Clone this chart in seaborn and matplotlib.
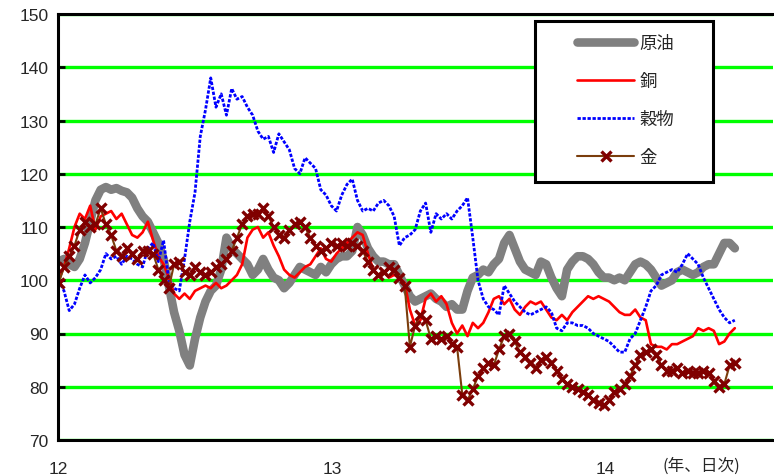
import numpy as np
import pandas as pd
import matplotlib
matplotlib.use("Agg")
import matplotlib.pyplot as plt
from matplotlib.patches import Rectangle
import seaborn as sns

# Weekly index levels (start of 2012 = 100)
start_date = "2012-01-02"

crude_oil = [
    103.5, 104, 103, 102.5, 104, 107, 111, 115, 117, 117.5,
    117, 117.3, 116.8, 116.5, 115.5, 113.5, 112, 111, 109, 107,
    104, 99, 94, 90.5, 86, 84, 89, 93, 96, 98,
    99, 102, 108, 106, 105, 104, 103, 101, 102, 104,
    102, 100.5, 100, 98.5, 99.5, 101, 102.5, 102, 101.5, 101,
    102.5, 101.5, 103, 104, 104.5, 104.5, 105.5, 110, 108.5, 106,
    104.5, 103.5, 103.5, 103, 103, 101, 99, 97, 96, 96.5,
    97, 97.5, 96.5, 96, 95, 95.5, 94.5, 94.5, 98, 100.5,
    101, 102, 101.5, 103, 104, 107, 108.5, 106, 103.5, 102,
    101.5, 101, 103.5, 103, 100.5, 98.5, 97, 102, 103.5, 104.5,
    104.5, 104, 103, 101.5, 100.5, 100.5, 100, 100.5, 100, 101.5,
    103, 103.5, 103, 102, 100.5, 99, 99.5, 100, 101.5, 102,
    101.5, 101, 101.5, 102.5, 103, 103, 105, 107, 107, 106,
]

copper = [
    100, 102.5, 106, 110, 112.5, 111.5, 114, 109.5, 112, 112.5,
    113, 111.5, 112.5, 110.5, 108.5, 108, 109, 111, 107.5, 104.5,
    103, 100.5, 97.5, 96.5, 97.5, 96.5, 98, 98.5, 99, 98.5,
    99.5, 98.5, 99, 100, 101, 103, 108, 109.5, 110, 108,
    109, 106.5, 104.5, 102, 101, 100.5, 101.5, 102.5, 103, 104.5,
    106, 104, 103.5, 105, 106, 107, 108, 109, 108.5, 105,
    102, 101, 101.5, 100.5, 101, 100.5, 99.5, 94.5, 91.5, 92.5,
    96.5, 97.5, 96, 97, 95.5, 92, 90, 91.5, 89.5, 92,
    91, 92, 94, 96.5, 97, 95.5, 96.5, 94.5, 93.5, 95,
    96, 95.5, 96, 94.5, 93, 92.5, 93.5, 92.5, 94, 95,
    96, 97, 96.5, 97, 96.5, 96, 95, 94, 93.5, 93.5,
    94.5, 93, 92.5, 88, 87.5, 87.5, 87, 88, 88, 88.5,
    89, 89.5, 91, 90.5, 91, 90.5, 88, 88.5, 90, 91,
]

grains = [
    100, 98, 94.3, 95.5, 98.5, 101, 99.5, 100.5, 102, 105,
    104, 104.5, 103, 104.5, 104, 103, 102.5, 106, 107, 103.5,
    107.5, 100, 98.5, 98, 104, 111, 116.5, 127, 132, 138,
    132.5, 135, 131, 136, 134, 134.5, 132.5, 131, 128, 126.5,
    127, 124, 127.5, 126, 124.5, 121, 120, 123, 122, 121,
    117, 116, 114, 113, 116, 118, 119, 115, 113, 113.5,
    113, 114.5, 115, 114, 112, 106.5, 108, 108.5, 109.5, 113,
    114.5, 109, 112.5, 111.5, 112.5, 111.5, 113, 114, 115.5, 108,
    100, 96.5, 95, 94.5, 93.5, 99, 97.5, 96, 95, 94,
    93.5, 94, 94.5, 95, 94, 91, 90.5, 92, 92, 91.5,
    91.5, 91, 90, 89.5, 89, 88.5, 87.5, 86.5, 86.5, 89,
    90, 92.5, 95, 98, 99, 101, 101.5, 102, 101.5, 103,
    105, 104, 103, 100.5, 98.5, 96.5, 94.5, 93, 92, 92.5,
]

gold = [
    99.5, 102.5, 104.5, 106.5, 109.5, 111, 110, 110.5, 113.5, 110.5,
    108.5, 105.5, 104.5, 106, 105, 104, 105.5, 105.5, 105, 102,
    100, 98.5, 103, 103.5, 101.5, 101, 102.5, 101.5, 101, 101.5,
    102.5, 103, 104, 105.5, 108, 110.5, 112, 112.5, 112.5, 113.5,
    112, 110, 108.5, 108, 109.5, 110.5, 111, 110, 108, 106.5,
    105.5, 106, 107, 106.5, 107, 106.5, 107, 106.5, 105.5, 103.5,
    102, 101, 101.5, 102.5, 102, 100.5, 99, 87.5, 91.5, 93.5,
    92.5, 89, 89.5, 89, 89.5, 88, 87.5, 78.5, 77.5, 79.5,
    82, 83.5, 84.5, 84, 87, 89.5, 90, 88.5, 86.5, 85.5,
    84.5, 83.5, 85, 85.5, 84.5, 83, 81.5, 80.5, 80, 79.5,
    79, 78.5, 77.5, 77, 76.5, 77.5, 79, 79.5, 80.5, 82,
    84, 86, 86.5, 87, 86, 84, 83, 83, 83.5, 82.5,
    83, 82.5, 82.5, 83, 82.5, 81, 80, 80.5, 84, 84.5,
]

labels = ["原油", "銅", "穀物", "金"]
year_ticks = ["2012-01-01", "2013-01-01", "2014-01-01"]
year_labels = ["12", "13", "14"]
y_ticks = [70, 80, 90, 100, 110, 120, 130, 140, 150]

dates = pd.date_range(start_date, periods=len(crude_oil), freq="7D")
df = pd.DataFrame({"date": dates, labels[0]: crude_oil, labels[1]: copper,
                   labels[2]: grains, labels[3]: gold})

sns.set_style("white")
plt.rcParams["font.family"] = ["Liberation Sans", "Noto Sans CJK JP", "DejaVu Sans"]

fig = plt.figure(figsize=(7.74, 4.77), dpi=100)
ax = fig.add_axes([58 / 774, 1 - 441 / 477, 715 / 774, 426 / 477])

sns.lineplot(data=df, x="date", y=labels[0], ax=ax, color="#808080", lw=6.2,
             solid_capstyle="round", solid_joinstyle="round", label=labels[0])
sns.lineplot(data=df, x="date", y=labels[1], ax=ax, color="#ff0000", lw=1.9,
             label=labels[1])
sns.lineplot(data=df, x="date", y=labels[2], ax=ax, color="#0000ff", lw=2.0,
             linestyle=(0, (1.2, 0.6)), label=labels[2])
sns.lineplot(data=df, x="date", y=labels[3], ax=ax, color="#7a3d0c", lw=1.5,
             marker="x", markersize=7, markeredgewidth=2.4,
             markeredgecolor="#800000", markerfacecolor="#800000",
             label=labels[3])

# axes ranges and ticks
ax.set_ylim(70, 150)
ax.set_xlim(pd.Timestamp("2012-01-01"), pd.Timestamp("2014-08-13"))
ax.set_yticks(y_ticks)
ax.set_yticklabels([str(v) for v in y_ticks])
ax.set_xticks([pd.Timestamp(d) for d in year_ticks])
ax.set_xticklabels(year_labels)
ax.set_xlabel("")
ax.set_ylabel("")

ax.tick_params(axis="y", direction="in", length=5, width=2, color="black",
               labelsize=12.5, pad=7, left=True)
ax.tick_params(axis="x", length=0, labelsize=12.5, pad=15)

# horizontal green gridlines
ax.set_axisbelow(True)
ax.yaxis.grid(True, color="#00ff00", lw=2.4)
ax.xaxis.grid(False)

for side in ["left", "bottom", "top"]:
    ax.spines[side].set_visible(True)
    ax.spines[side].set_color("black")
    ax.spines[side].set_linewidth(2.2)
ax.spines["right"].set_visible(False)

ax.text(0.9, -0.0587, "(年、日次)", transform=ax.transAxes, ha="center",
        va="center", fontsize=12, family=["Noto Sans CJK JP"])

# legend box
box = Rectangle((0.667, 0.6056), 0.249, 0.378, transform=ax.transAxes,
                facecolor="white", edgecolor="black", lw=2.2, zorder=6)
ax.add_patch(box)
handles, hl = ax.get_legend_handles_labels()
leg = ax.legend(handles, hl, loc="upper left", bbox_to_anchor=(0.714, 0.974),
                frameon=False, borderpad=0, handlelength=3.3,
                handletextpad=0.3, labelspacing=1.15,
                prop={"family": ["Noto Sans CJK JP"], "size": 12.5})
leg.set_zorder(7)

fig.savefig("out.png", dpi=100)
